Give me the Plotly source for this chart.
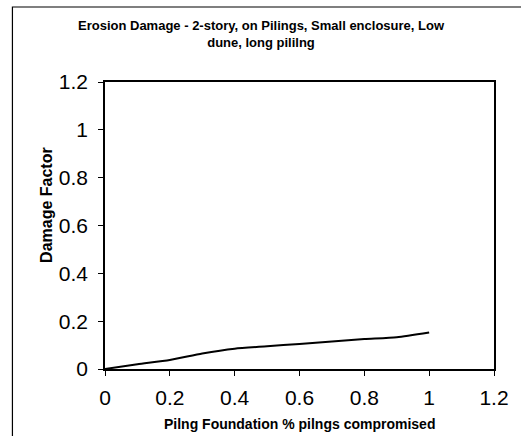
import plotly.graph_objects as go

# Share of pilings compromised vs. resulting damage factor
pct_compromised = [0.0, 0.1, 0.2, 0.3, 0.4, 0.5, 0.6, 0.7, 0.8, 0.9, 1.0]
damage_factor = [0.0, 0.02, 0.038, 0.065, 0.085, 0.095, 0.105, 0.115, 0.125, 0.133, 0.153]

x_ticks = [0, 0.2, 0.4, 0.6, 0.8, 1, 1.2]
y_ticks = [0, 0.2, 0.4, 0.6, 0.8, 1, 1.2]

W, H = 521, 436
L, R, T, B = 105, 21, 82, 67
pw, ph = W - L - R, H - T - B

fig = go.Figure()
fig.add_trace(go.Scatter(
    x=pct_compromised, y=damage_factor, mode="lines",
    line=dict(color="black", width=2, shape="spline", smoothing=0.6),
    hoverinfo="skip", showlegend=False,
))

font = "Liberation Sans, Arial, sans-serif"
axis_common = dict(
    showgrid=False, zeroline=False, showline=True, linecolor="black",
    linewidth=1.5, mirror=True, ticks="outside", ticklen=5, tickwidth=1,
    tickcolor="black", tickfont=dict(family=font, size=21, color="black"),
)
fig.update_xaxes(range=[0, 1.2], tickvals=x_ticks, ticklabelstandoff=4,
                 ticktext=[f"{v:g}" for v in x_ticks], **axis_common)
fig.update_yaxes(range=[0, 1.2], tickvals=y_ticks, ticklabelstandoff=6,
                 ticktext=[f"{v:g}" for v in y_ticks], **axis_common)


def px_x(p):
    return (p - L) / pw


def px_y(p):
    return (H - B - p) / ph


fig.update_layout(
    width=W, height=H,
    margin=dict(l=L, r=R, t=T, b=B),
    paper_bgcolor="white", plot_bgcolor="white",
    shapes=[dict(type="rect", xref="paper", yref="paper",
                 x0=px_x(11), x1=px_x(540), y0=px_y(460), y1=px_y(7),
                 line=dict(color="black", width=1.2))],
    annotations=[
        dict(text="<b>Erosion Damage - 2-story, on Pilings, Small enclosure, Low<br>dune, long pililng</b>",
             xref="paper", yref="paper", x=px_x(264), y=px_y(34),
             showarrow=False, font=dict(family=font, size=13, color="black"),
             xanchor="center", yanchor="middle", align="center"),
        dict(text="<b>Pilng Foundation % pilngs compromised</b>",
             xref="paper", yref="paper", x=px_x(302), y=px_y(424),
             showarrow=False, font=dict(family=font, size=14, color="black"),
             xanchor="center", yanchor="middle"),
        dict(text="<b>Damage Factor</b>", textangle=-90,
             xref="paper", yref="paper", x=px_x(45), y=px_y(205),
             showarrow=False, font=dict(family=font, size=16, color="black"),
             xanchor="center", yanchor="middle"),
    ],
)

fig.write_html("out.html")
